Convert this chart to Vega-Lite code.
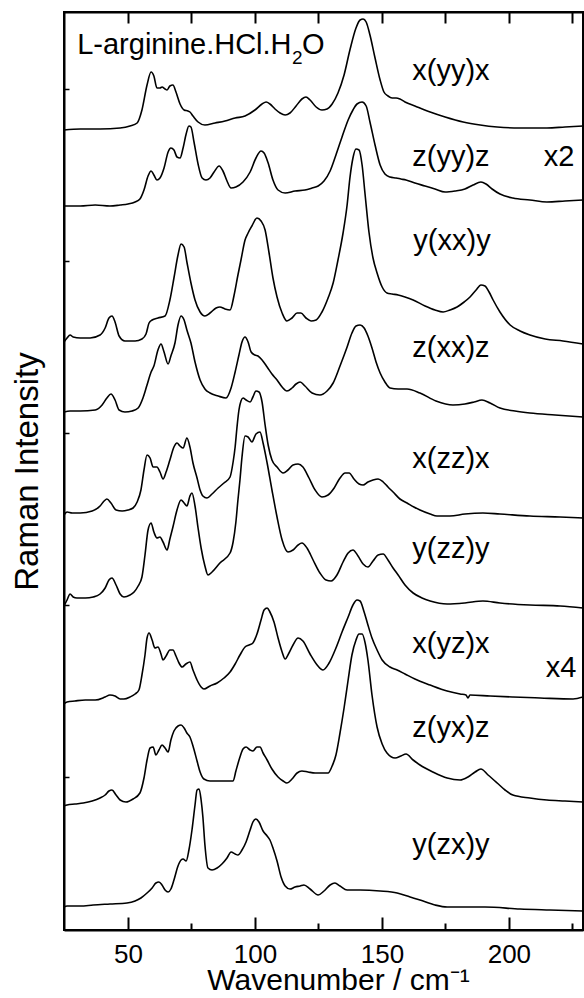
{
"$schema": "https://vega.github.io/schema/vega-lite/v6.json",
"width": 519,
"height": 918,
"autosize": "none",
"padding": {"left": 64, "top": 12, "right": 1, "bottom": 68},
"background": "white",
"config": {"view": {"stroke": "black", "strokeWidth": 2}, "font": "Liberation Sans"},
"datasets": {
"spectra": [
{"s":"xyyx","w":24.8,"i":800},{"s":"xyyx","w":31.2,"i":801},{"s":"xyyx","w":39.0,"i":801},{"s":"xyyx","w":46.9,"i":802},{"s":"xyyx","w":50.8,"i":804},{"s":"xyyx","w":53.6,"i":807},{"s":"xyyx","w":55.5,"i":820},{"s":"xyyx","w":57.5,"i":845},{"s":"xyyx","w":59.1,"i":858},{"s":"xyyx","w":60.2,"i":854},{"s":"xyyx","w":61.4,"i":842},{"s":"xyyx","w":62.6,"i":842},{"s":"xyyx","w":63.4,"i":843},{"s":"xyyx","w":64.6,"i":841},{"s":"xyyx","w":65.4,"i":840},{"s":"xyyx","w":66.5,"i":844},{"s":"xyyx","w":67.7,"i":845},{"s":"xyyx","w":68.9,"i":838},{"s":"xyyx","w":70.5,"i":826},{"s":"xyyx","w":72.1,"i":820},{"s":"xyyx","w":73.6,"i":819},{"s":"xyyx","w":74.4,"i":818},{"s":"xyyx","w":75.6,"i":814},{"s":"xyyx","w":77.6,"i":808},{"s":"xyyx","w":80.3,"i":805},{"s":"xyyx","w":84.3,"i":807},{"s":"xyyx","w":88.2,"i":809},{"s":"xyyx","w":92.2,"i":812},{"s":"xyyx","w":96.1,"i":814},{"s":"xyyx","w":100.0,"i":820},{"s":"xyyx","w":102.8,"i":826},{"s":"xyyx","w":104.4,"i":828},{"s":"xyyx","w":105.9,"i":826},{"s":"xyyx","w":107.9,"i":821},{"s":"xyyx","w":109.9,"i":817},{"s":"xyyx","w":111.9,"i":815},{"s":"xyyx","w":113.8,"i":817},{"s":"xyyx","w":116.2,"i":824},{"s":"xyyx","w":118.5,"i":831},{"s":"xyyx","w":120.1,"i":833},{"s":"xyyx","w":121.7,"i":830},{"s":"xyyx","w":124.1,"i":823},{"s":"xyyx","w":126.4,"i":820},{"s":"xyyx","w":128.4,"i":821},{"s":"xyyx","w":130.4,"i":826},{"s":"xyyx","w":132.7,"i":837},{"s":"xyyx","w":135.1,"i":855},{"s":"xyyx","w":137.4,"i":880},{"s":"xyyx","w":139.8,"i":902},{"s":"xyyx","w":141.4,"i":910},{"s":"xyyx","w":142.6,"i":911},{"s":"xyyx","w":143.8,"i":908},{"s":"xyyx","w":145.3,"i":895},{"s":"xyyx","w":147.3,"i":872},{"s":"xyyx","w":149.3,"i":850},{"s":"xyyx","w":150.8,"i":838},{"s":"xyyx","w":152.4,"i":834},{"s":"xyyx","w":154.0,"i":832},{"s":"xyyx","w":155.6,"i":832},{"s":"xyyx","w":157.1,"i":831},{"s":"xyyx","w":159.1,"i":828},{"s":"xyyx","w":163.0,"i":824},{"s":"xyyx","w":169.0,"i":818},{"s":"xyyx","w":174.9,"i":813},{"s":"xyyx","w":182.0,"i":808},{"s":"xyyx","w":188.7,"i":805},{"s":"xyyx","w":195.4,"i":803},{"s":"xyyx","w":204.4,"i":802},{"s":"xyyx","w":215.0,"i":802},{"s":"xyyx","w":222.1,"i":803},{"s":"xyyx","w":229.2,"i":804},
{"s":"zyyz","w":24.8,"i":724},{"s":"zyyz","w":31.2,"i":724},{"s":"zyyz","w":37.1,"i":725},{"s":"zyyz","w":42.9,"i":724},{"s":"zyyz","w":46.9,"i":725},{"s":"zyyz","w":50.0,"i":726},{"s":"zyyz","w":52.8,"i":728},{"s":"zyyz","w":54.7,"i":731},{"s":"zyyz","w":56.3,"i":740},{"s":"zyyz","w":57.9,"i":754},{"s":"zyyz","w":59.1,"i":759},{"s":"zyyz","w":60.2,"i":755},{"s":"zyyz","w":61.4,"i":750},{"s":"zyyz","w":62.6,"i":752},{"s":"zyyz","w":64.2,"i":762},{"s":"zyyz","w":65.8,"i":778},{"s":"zyyz","w":66.9,"i":782},{"s":"zyyz","w":68.1,"i":780},{"s":"zyyz","w":69.3,"i":773},{"s":"zyyz","w":70.5,"i":772},{"s":"zyyz","w":71.7,"i":782},{"s":"zyyz","w":72.9,"i":796},{"s":"zyyz","w":74.0,"i":804},{"s":"zyyz","w":74.8,"i":803},{"s":"zyyz","w":76.0,"i":788},{"s":"zyyz","w":77.6,"i":766},{"s":"zyyz","w":79.2,"i":752},{"s":"zyyz","w":80.7,"i":750},{"s":"zyyz","w":82.3,"i":752},{"s":"zyyz","w":83.9,"i":758},{"s":"zyyz","w":85.9,"i":764},{"s":"zyyz","w":87.4,"i":759},{"s":"zyyz","w":89.0,"i":749},{"s":"zyyz","w":90.6,"i":742},{"s":"zyyz","w":92.5,"i":743},{"s":"zyyz","w":95.3,"i":748},{"s":"zyyz","w":98.1,"i":758},{"s":"zyyz","w":100.4,"i":772},{"s":"zyyz","w":102.4,"i":779},{"s":"zyyz","w":103.6,"i":777},{"s":"zyyz","w":105.2,"i":767},{"s":"zyyz","w":107.1,"i":750},{"s":"zyyz","w":109.1,"i":740},{"s":"zyyz","w":111.9,"i":737},{"s":"zyyz","w":115.8,"i":739},{"s":"zyyz","w":119.7,"i":740},{"s":"zyyz","w":122.5,"i":742},{"s":"zyyz","w":124.9,"i":744},{"s":"zyyz","w":127.2,"i":749},{"s":"zyyz","w":129.6,"i":759},{"s":"zyyz","w":131.9,"i":775},{"s":"zyyz","w":134.3,"i":793},{"s":"zyyz","w":136.7,"i":810},{"s":"zyyz","w":138.6,"i":820},{"s":"zyyz","w":140.2,"i":826},{"s":"zyyz","w":142.2,"i":828},{"s":"zyyz","w":143.8,"i":824},{"s":"zyyz","w":145.3,"i":808},{"s":"zyyz","w":147.3,"i":785},{"s":"zyyz","w":149.3,"i":765},{"s":"zyyz","w":151.2,"i":756},{"s":"zyyz","w":153.2,"i":753},{"s":"zyyz","w":155.6,"i":752},{"s":"zyyz","w":157.5,"i":751},{"s":"zyyz","w":159.5,"i":750},{"s":"zyyz","w":163.0,"i":747},{"s":"zyyz","w":167.0,"i":744},{"s":"zyyz","w":170.9,"i":741},{"s":"zyyz","w":174.9,"i":738},{"s":"zyyz","w":178.8,"i":739},{"s":"zyyz","w":182.7,"i":741},{"s":"zyyz","w":185.9,"i":745},{"s":"zyyz","w":189.0,"i":748},{"s":"zyyz","w":191.0,"i":746},{"s":"zyyz","w":193.4,"i":741},{"s":"zyyz","w":196.5,"i":736},{"s":"zyyz","w":201.6,"i":732},{"s":"zyyz","w":208.3,"i":730},{"s":"zyyz","w":215.0,"i":728},{"s":"zyyz","w":222.1,"i":729},{"s":"zyyz","w":229.2,"i":730},
{"s":"yxxy","w":24.8,"i":588},{"s":"yxxy","w":26.0,"i":592},{"s":"yxxy","w":27.2,"i":595},{"s":"yxxy","w":28.4,"i":593},{"s":"yxxy","w":31.2,"i":592},{"s":"yxxy","w":35.1,"i":592},{"s":"yxxy","w":39.0,"i":595},{"s":"yxxy","w":41.0,"i":602},{"s":"yxxy","w":42.5,"i":612},{"s":"yxxy","w":43.7,"i":614},{"s":"yxxy","w":44.9,"i":608},{"s":"yxxy","w":46.5,"i":594},{"s":"yxxy","w":48.8,"i":589},{"s":"yxxy","w":52.8,"i":589},{"s":"yxxy","w":55.5,"i":591},{"s":"yxxy","w":57.1,"i":596},{"s":"yxxy","w":58.3,"i":607},{"s":"yxxy","w":59.5,"i":610},{"s":"yxxy","w":61.8,"i":612},{"s":"yxxy","w":64.6,"i":614},{"s":"yxxy","w":66.5,"i":630},{"s":"yxxy","w":68.1,"i":652},{"s":"yxxy","w":69.7,"i":675},{"s":"yxxy","w":70.9,"i":686},{"s":"yxxy","w":72.1,"i":683},{"s":"yxxy","w":73.2,"i":668},{"s":"yxxy","w":74.8,"i":647},{"s":"yxxy","w":76.4,"i":630},{"s":"yxxy","w":78.4,"i":618},{"s":"yxxy","w":80.3,"i":614},{"s":"yxxy","w":82.3,"i":617},{"s":"yxxy","w":84.7,"i":622},{"s":"yxxy","w":86.2,"i":623},{"s":"yxxy","w":88.2,"i":621},{"s":"yxxy","w":90.2,"i":620},{"s":"yxxy","w":91.8,"i":635},{"s":"yxxy","w":93.3,"i":655},{"s":"yxxy","w":94.5,"i":670},{"s":"yxxy","w":96.1,"i":690},{"s":"yxxy","w":97.3,"i":697},{"s":"yxxy","w":98.8,"i":704},{"s":"yxxy","w":100.8,"i":712},{"s":"yxxy","w":102.4,"i":709},{"s":"yxxy","w":104.0,"i":700},{"s":"yxxy","w":105.5,"i":678},{"s":"yxxy","w":107.1,"i":652},{"s":"yxxy","w":108.7,"i":633},{"s":"yxxy","w":110.7,"i":617},{"s":"yxxy","w":112.6,"i":609},{"s":"yxxy","w":114.6,"i":612},{"s":"yxxy","w":116.6,"i":617},{"s":"yxxy","w":118.1,"i":617},{"s":"yxxy","w":120.1,"i":612},{"s":"yxxy","w":122.1,"i":609},{"s":"yxxy","w":124.1,"i":610},{"s":"yxxy","w":126.4,"i":618},{"s":"yxxy","w":128.8,"i":632},{"s":"yxxy","w":130.8,"i":647},{"s":"yxxy","w":132.7,"i":670},{"s":"yxxy","w":134.7,"i":697},{"s":"yxxy","w":136.3,"i":725},{"s":"yxxy","w":137.4,"i":752},{"s":"yxxy","w":138.6,"i":772},{"s":"yxxy","w":139.8,"i":781},{"s":"yxxy","w":141.0,"i":780},{"s":"yxxy","w":142.2,"i":765},{"s":"yxxy","w":143.4,"i":735},{"s":"yxxy","w":144.9,"i":698},{"s":"yxxy","w":146.5,"i":672},{"s":"yxxy","w":148.1,"i":657},{"s":"yxxy","w":150.1,"i":643},{"s":"yxxy","w":152.0,"i":637},{"s":"yxxy","w":154.0,"i":636},{"s":"yxxy","w":156.4,"i":635},{"s":"yxxy","w":159.1,"i":633},{"s":"yxxy","w":162.3,"i":630},{"s":"yxxy","w":167.0,"i":624},{"s":"yxxy","w":170.9,"i":620},{"s":"yxxy","w":174.1,"i":618},{"s":"yxxy","w":176.8,"i":620},{"s":"yxxy","w":179.6,"i":623},{"s":"yxxy","w":182.4,"i":628},{"s":"yxxy","w":184.7,"i":633},{"s":"yxxy","w":187.1,"i":640},{"s":"yxxy","w":189.0,"i":645},{"s":"yxxy","w":190.6,"i":644},{"s":"yxxy","w":192.2,"i":638},{"s":"yxxy","w":193.8,"i":630},{"s":"yxxy","w":196.5,"i":618},{"s":"yxxy","w":200.5,"i":605},{"s":"yxxy","w":204.4,"i":599},{"s":"yxxy","w":208.3,"i":595},{"s":"yxxy","w":214.3,"i":591},{"s":"yxxy","w":221.3,"i":589},{"s":"yxxy","w":229.2,"i":586},
{"s":"zxxz","w":24.8,"i":518},{"s":"zxxz","w":27.2,"i":519},{"s":"zxxz","w":31.2,"i":519},{"s":"zxxz","w":37.1,"i":520},{"s":"zxxz","w":39.8,"i":525},{"s":"zxxz","w":41.7,"i":532},{"s":"zxxz","w":43.3,"i":536},{"s":"zxxz","w":44.9,"i":530},{"s":"zxxz","w":46.5,"i":520},{"s":"zxxz","w":48.8,"i":518},{"s":"zxxz","w":51.6,"i":519},{"s":"zxxz","w":54.0,"i":522},{"s":"zxxz","w":55.9,"i":532},{"s":"zxxz","w":57.5,"i":545},{"s":"zxxz","w":59.1,"i":558},{"s":"zxxz","w":60.2,"i":564},{"s":"zxxz","w":61.8,"i":580},{"s":"zxxz","w":63.0,"i":586},{"s":"zxxz","w":64.2,"i":578},{"s":"zxxz","w":65.8,"i":566},{"s":"zxxz","w":66.9,"i":574},{"s":"zxxz","w":68.5,"i":587},{"s":"zxxz","w":69.7,"i":605},{"s":"zxxz","w":70.9,"i":614},{"s":"zxxz","w":72.1,"i":610},{"s":"zxxz","w":73.2,"i":600},{"s":"zxxz","w":74.8,"i":587},{"s":"zxxz","w":76.4,"i":568},{"s":"zxxz","w":78.4,"i":550},{"s":"zxxz","w":80.3,"i":541},{"s":"zxxz","w":82.3,"i":537},{"s":"zxxz","w":85.5,"i":534},{"s":"zxxz","w":88.6,"i":532},{"s":"zxxz","w":90.6,"i":542},{"s":"zxxz","w":92.2,"i":558},{"s":"zxxz","w":93.7,"i":575},{"s":"zxxz","w":94.9,"i":588},{"s":"zxxz","w":96.1,"i":593},{"s":"zxxz","w":97.3,"i":588},{"s":"zxxz","w":98.5,"i":578},{"s":"zxxz","w":100.0,"i":575},{"s":"zxxz","w":101.2,"i":574},{"s":"zxxz","w":102.8,"i":570},{"s":"zxxz","w":104.8,"i":563},{"s":"zxxz","w":106.7,"i":556},{"s":"zxxz","w":108.7,"i":550},{"s":"zxxz","w":110.7,"i":543},{"s":"zxxz","w":112.6,"i":539},{"s":"zxxz","w":114.6,"i":542},{"s":"zxxz","w":116.2,"i":546},{"s":"zxxz","w":117.8,"i":548},{"s":"zxxz","w":119.7,"i":544},{"s":"zxxz","w":122.5,"i":537},{"s":"zxxz","w":125.6,"i":535},{"s":"zxxz","w":128.4,"i":539},{"s":"zxxz","w":130.8,"i":547},{"s":"zxxz","w":133.5,"i":564},{"s":"zxxz","w":136.3,"i":583},{"s":"zxxz","w":138.2,"i":597},{"s":"zxxz","w":139.8,"i":604},{"s":"zxxz","w":141.4,"i":605},{"s":"zxxz","w":143.0,"i":602},{"s":"zxxz","w":144.5,"i":594},{"s":"zxxz","w":146.1,"i":582},{"s":"zxxz","w":147.7,"i":568},{"s":"zxxz","w":149.3,"i":557},{"s":"zxxz","w":151.2,"i":548},{"s":"zxxz","w":153.2,"i":542},{"s":"zxxz","w":156.4,"i":541},{"s":"zxxz","w":159.9,"i":541},{"s":"zxxz","w":165.0,"i":537},{"s":"zxxz","w":171.3,"i":529},{"s":"zxxz","w":178.0,"i":525},{"s":"zxxz","w":182.7,"i":526},{"s":"zxxz","w":186.3,"i":528},{"s":"zxxz","w":189.4,"i":530},{"s":"zxxz","w":192.6,"i":527},{"s":"zxxz","w":196.5,"i":522},{"s":"zxxz","w":202.4,"i":519},{"s":"zxxz","w":208.3,"i":517},{"s":"zxxz","w":218.2,"i":515},{"s":"zxxz","w":229.2,"i":513},
{"s":"xzzx","w":24.8,"i":415},{"s":"xzzx","w":26.0,"i":418},{"s":"xzzx","w":28.0,"i":417},{"s":"xzzx","w":31.2,"i":417},{"s":"xzzx","w":35.9,"i":419},{"s":"xzzx","w":39.0,"i":424},{"s":"xzzx","w":40.6,"i":429},{"s":"xzzx","w":41.7,"i":431},{"s":"xzzx","w":43.3,"i":427},{"s":"xzzx","w":45.3,"i":420},{"s":"xzzx","w":47.7,"i":419},{"s":"xzzx","w":50.0,"i":420},{"s":"xzzx","w":52.0,"i":422},{"s":"xzzx","w":53.6,"i":428},{"s":"xzzx","w":55.1,"i":440},{"s":"xzzx","w":56.3,"i":460},{"s":"xzzx","w":57.5,"i":475},{"s":"xzzx","w":58.7,"i":472},{"s":"xzzx","w":59.9,"i":463},{"s":"xzzx","w":61.4,"i":463},{"s":"xzzx","w":62.6,"i":458},{"s":"xzzx","w":63.8,"i":451},{"s":"xzzx","w":65.0,"i":458},{"s":"xzzx","w":66.5,"i":470},{"s":"xzzx","w":68.1,"i":483},{"s":"xzzx","w":69.3,"i":487},{"s":"xzzx","w":70.5,"i":484},{"s":"xzzx","w":71.7,"i":482},{"s":"xzzx","w":73.2,"i":492},{"s":"xzzx","w":74.4,"i":483},{"s":"xzzx","w":75.6,"i":467},{"s":"xzzx","w":77.2,"i":452},{"s":"xzzx","w":78.4,"i":440},{"s":"xzzx","w":79.5,"i":434},{"s":"xzzx","w":81.1,"i":432},{"s":"xzzx","w":83.1,"i":436},{"s":"xzzx","w":85.5,"i":442},{"s":"xzzx","w":87.8,"i":447},{"s":"xzzx","w":90.2,"i":453},{"s":"xzzx","w":91.4,"i":468},{"s":"xzzx","w":92.2,"i":483},{"s":"xzzx","w":92.9,"i":502},{"s":"xzzx","w":93.7,"i":520},{"s":"xzzx","w":94.5,"i":529},{"s":"xzzx","w":95.3,"i":532},{"s":"xzzx","w":96.5,"i":530},{"s":"xzzx","w":98.1,"i":528},{"s":"xzzx","w":99.2,"i":533},{"s":"xzzx","w":100.4,"i":539},{"s":"xzzx","w":101.6,"i":538},{"s":"xzzx","w":102.8,"i":528},{"s":"xzzx","w":104.0,"i":505},{"s":"xzzx","w":105.2,"i":485},{"s":"xzzx","w":106.7,"i":470},{"s":"xzzx","w":108.7,"i":463},{"s":"xzzx","w":111.1,"i":457},{"s":"xzzx","w":113.0,"i":460},{"s":"xzzx","w":115.0,"i":465},{"s":"xzzx","w":117.0,"i":466},{"s":"xzzx","w":118.9,"i":463},{"s":"xzzx","w":121.3,"i":452},{"s":"xzzx","w":123.7,"i":440},{"s":"xzzx","w":126.4,"i":433},{"s":"xzzx","w":128.8,"i":435},{"s":"xzzx","w":131.2,"i":442},{"s":"xzzx","w":133.5,"i":452},{"s":"xzzx","w":135.5,"i":457},{"s":"xzzx","w":137.1,"i":457},{"s":"xzzx","w":139.0,"i":451},{"s":"xzzx","w":141.0,"i":446},{"s":"xzzx","w":142.6,"i":445},{"s":"xzzx","w":144.5,"i":448},{"s":"xzzx","w":146.5,"i":450},{"s":"xzzx","w":148.5,"i":451},{"s":"xzzx","w":150.5,"i":448},{"s":"xzzx","w":152.4,"i":443},{"s":"xzzx","w":154.4,"i":438},{"s":"xzzx","w":157.1,"i":431},{"s":"xzzx","w":159.9,"i":427},{"s":"xzzx","w":162.6,"i":423},{"s":"xzzx","w":165.0,"i":420},{"s":"xzzx","w":169.0,"i":416},{"s":"xzzx","w":171.7,"i":414},{"s":"xzzx","w":176.8,"i":414},{"s":"xzzx","w":182.7,"i":416},{"s":"xzzx","w":189.8,"i":417},{"s":"xzzx","w":196.5,"i":416},{"s":"xzzx","w":208.3,"i":414},{"s":"xzzx","w":220.2,"i":413},{"s":"xzzx","w":229.2,"i":412},
{"s":"yzzy","w":24.8,"i":324},{"s":"yzzy","w":26.0,"i":330},{"s":"yzzy","w":27.2,"i":336},{"s":"yzzy","w":28.4,"i":333},{"s":"yzzy","w":29.9,"i":332},{"s":"yzzy","w":33.2,"i":332},{"s":"yzzy","w":36.3,"i":333},{"s":"yzzy","w":39.0,"i":336},{"s":"yzzy","w":41.0,"i":342},{"s":"yzzy","w":42.5,"i":350},{"s":"yzzy","w":43.7,"i":352},{"s":"yzzy","w":45.3,"i":345},{"s":"yzzy","w":46.9,"i":336},{"s":"yzzy","w":48.4,"i":333},{"s":"yzzy","w":50.8,"i":335},{"s":"yzzy","w":52.4,"i":338},{"s":"yzzy","w":54.0,"i":344},{"s":"yzzy","w":55.5,"i":353},{"s":"yzzy","w":56.7,"i":375},{"s":"yzzy","w":57.9,"i":400},{"s":"yzzy","w":59.1,"i":407},{"s":"yzzy","w":60.2,"i":398},{"s":"yzzy","w":61.4,"i":392},{"s":"yzzy","w":62.6,"i":393},{"s":"yzzy","w":63.8,"i":388},{"s":"yzzy","w":65.4,"i":380},{"s":"yzzy","w":66.5,"i":391},{"s":"yzzy","w":67.7,"i":403},{"s":"yzzy","w":69.3,"i":420},{"s":"yzzy","w":70.9,"i":430},{"s":"yzzy","w":72.1,"i":427},{"s":"yzzy","w":73.2,"i":424},{"s":"yzzy","w":74.4,"i":434},{"s":"yzzy","w":75.2,"i":437},{"s":"yzzy","w":76.4,"i":424},{"s":"yzzy","w":77.6,"i":402},{"s":"yzzy","w":78.8,"i":382},{"s":"yzzy","w":80.3,"i":364},{"s":"yzzy","w":81.5,"i":355},{"s":"yzzy","w":83.1,"i":358},{"s":"yzzy","w":86.2,"i":367},{"s":"yzzy","w":90.2,"i":377},{"s":"yzzy","w":91.4,"i":388},{"s":"yzzy","w":92.5,"i":408},{"s":"yzzy","w":93.3,"i":430},{"s":"yzzy","w":94.1,"i":450},{"s":"yzzy","w":94.9,"i":473},{"s":"yzzy","w":96.1,"i":494},{"s":"yzzy","w":97.3,"i":493},{"s":"yzzy","w":98.8,"i":488},{"s":"yzzy","w":100.4,"i":496},{"s":"yzzy","w":102.0,"i":498},{"s":"yzzy","w":103.2,"i":487},{"s":"yzzy","w":104.8,"i":467},{"s":"yzzy","w":106.7,"i":440},{"s":"yzzy","w":108.7,"i":413},{"s":"yzzy","w":110.7,"i":390},{"s":"yzzy","w":113.0,"i":378},{"s":"yzzy","w":115.0,"i":380},{"s":"yzzy","w":117.0,"i":385},{"s":"yzzy","w":118.5,"i":387},{"s":"yzzy","w":120.5,"i":382},{"s":"yzzy","w":122.9,"i":370},{"s":"yzzy","w":125.6,"i":357},{"s":"yzzy","w":128.0,"i":350},{"s":"yzzy","w":130.0,"i":349},{"s":"yzzy","w":132.3,"i":355},{"s":"yzzy","w":134.7,"i":368},{"s":"yzzy","w":136.7,"i":377},{"s":"yzzy","w":138.6,"i":380},{"s":"yzzy","w":140.6,"i":374},{"s":"yzzy","w":142.6,"i":366},{"s":"yzzy","w":144.5,"i":363},{"s":"yzzy","w":146.5,"i":369},{"s":"yzzy","w":148.5,"i":375},{"s":"yzzy","w":150.5,"i":376},{"s":"yzzy","w":152.4,"i":370},{"s":"yzzy","w":154.4,"i":362},{"s":"yzzy","w":156.4,"i":355},{"s":"yzzy","w":159.1,"i":345},{"s":"yzzy","w":162.3,"i":337},{"s":"yzzy","w":165.8,"i":332},{"s":"yzzy","w":169.0,"i":329},{"s":"yzzy","w":175.7,"i":326},{"s":"yzzy","w":182.7,"i":327},{"s":"yzzy","w":189.8,"i":329},{"s":"yzzy","w":196.5,"i":327},{"s":"yzzy","w":208.3,"i":325},{"s":"yzzy","w":220.2,"i":324},{"s":"yzzy","w":229.2,"i":322},
{"s":"xyzx","w":24.8,"i":226},{"s":"xyzx","w":26.0,"i":228},{"s":"xyzx","w":29.1,"i":229},{"s":"xyzx","w":33.2,"i":230},{"s":"xyzx","w":37.1,"i":230},{"s":"xyzx","w":41.0,"i":233},{"s":"xyzx","w":42.9,"i":235},{"s":"xyzx","w":44.9,"i":234},{"s":"xyzx","w":46.9,"i":231},{"s":"xyzx","w":48.4,"i":231},{"s":"xyzx","w":50.8,"i":233},{"s":"xyzx","w":52.8,"i":236},{"s":"xyzx","w":54.3,"i":240},{"s":"xyzx","w":55.5,"i":255},{"s":"xyzx","w":56.7,"i":275},{"s":"xyzx","w":57.5,"i":292},{"s":"xyzx","w":58.3,"i":297},{"s":"xyzx","w":59.5,"i":290},{"s":"xyzx","w":60.6,"i":282},{"s":"xyzx","w":61.8,"i":283},{"s":"xyzx","w":63.0,"i":276},{"s":"xyzx","w":63.8,"i":270},{"s":"xyzx","w":65.0,"i":274},{"s":"xyzx","w":66.5,"i":280},{"s":"xyzx","w":67.7,"i":280},{"s":"xyzx","w":68.9,"i":274},{"s":"xyzx","w":70.1,"i":267},{"s":"xyzx","w":71.3,"i":263},{"s":"xyzx","w":72.8,"i":266},{"s":"xyzx","w":74.4,"i":268},{"s":"xyzx","w":75.6,"i":260},{"s":"xyzx","w":77.2,"i":250},{"s":"xyzx","w":78.8,"i":243},{"s":"xyzx","w":79.9,"i":241},{"s":"xyzx","w":82.3,"i":244},{"s":"xyzx","w":85.1,"i":247},{"s":"xyzx","w":87.8,"i":252},{"s":"xyzx","w":90.2,"i":258},{"s":"xyzx","w":92.2,"i":266},{"s":"xyzx","w":94.1,"i":275},{"s":"xyzx","w":96.1,"i":283},{"s":"xyzx","w":97.7,"i":285},{"s":"xyzx","w":99.2,"i":287},{"s":"xyzx","w":100.8,"i":296},{"s":"xyzx","w":102.4,"i":310},{"s":"xyzx","w":103.6,"i":320},{"s":"xyzx","w":104.8,"i":322},{"s":"xyzx","w":105.9,"i":318},{"s":"xyzx","w":107.5,"i":308},{"s":"xyzx","w":109.1,"i":292},{"s":"xyzx","w":110.7,"i":278},{"s":"xyzx","w":111.9,"i":271},{"s":"xyzx","w":113.4,"i":277},{"s":"xyzx","w":115.0,"i":285},{"s":"xyzx","w":117.0,"i":292},{"s":"xyzx","w":118.9,"i":289},{"s":"xyzx","w":121.7,"i":276},{"s":"xyzx","w":124.5,"i":265},{"s":"xyzx","w":126.8,"i":260},{"s":"xyzx","w":129.2,"i":267},{"s":"xyzx","w":131.9,"i":282},{"s":"xyzx","w":134.3,"i":298},{"s":"xyzx","w":136.7,"i":313},{"s":"xyzx","w":138.6,"i":325},{"s":"xyzx","w":140.2,"i":330},{"s":"xyzx","w":141.4,"i":329},{"s":"xyzx","w":143.0,"i":318},{"s":"xyzx","w":144.5,"i":305},{"s":"xyzx","w":146.1,"i":292},{"s":"xyzx","w":148.1,"i":280},{"s":"xyzx","w":150.1,"i":270},{"s":"xyzx","w":153.2,"i":263},{"s":"xyzx","w":156.0,"i":260},{"s":"xyzx","w":159.1,"i":256},{"s":"xyzx","w":163.0,"i":251},{"s":"xyzx","w":169.0,"i":245},{"s":"xyzx","w":175.7,"i":239},{"s":"xyzx","w":180.8,"i":236},{"s":"xyzx","w":183.1,"i":235},{"s":"xyzx","w":183.9,"i":232},{"s":"xyzx","w":184.7,"i":235},{"s":"xyzx","w":192.6,"i":234},{"s":"xyzx","w":201.6,"i":233},{"s":"xyzx","w":212.3,"i":232},{"s":"xyzx","w":225.3,"i":231},{"s":"xyzx","w":229.2,"i":233},
{"s":"zyxz","w":24.8,"i":124},{"s":"zyxz","w":26.0,"i":125},{"s":"zyxz","w":29.1,"i":126},{"s":"zyxz","w":32.4,"i":127},{"s":"zyxz","w":35.9,"i":129},{"s":"zyxz","w":39.0,"i":132},{"s":"zyxz","w":41.0,"i":135},{"s":"zyxz","w":42.5,"i":139},{"s":"zyxz","w":43.7,"i":140},{"s":"zyxz","w":45.3,"i":135},{"s":"zyxz","w":46.9,"i":130},{"s":"zyxz","w":49.2,"i":128},{"s":"zyxz","w":52.0,"i":131},{"s":"zyxz","w":54.7,"i":137},{"s":"zyxz","w":56.3,"i":152},{"s":"zyxz","w":57.5,"i":170},{"s":"zyxz","w":58.7,"i":182},{"s":"zyxz","w":59.9,"i":183},{"s":"zyxz","w":61.0,"i":175},{"s":"zyxz","w":62.2,"i":180},{"s":"zyxz","w":63.4,"i":185},{"s":"zyxz","w":64.6,"i":182},{"s":"zyxz","w":65.8,"i":178},{"s":"zyxz","w":66.9,"i":190},{"s":"zyxz","w":68.1,"i":199},{"s":"zyxz","w":69.7,"i":204},{"s":"zyxz","w":70.9,"i":205},{"s":"zyxz","w":72.1,"i":202},{"s":"zyxz","w":73.2,"i":197},{"s":"zyxz","w":74.4,"i":193},{"s":"zyxz","w":75.6,"i":184},{"s":"zyxz","w":77.2,"i":169},{"s":"zyxz","w":78.4,"i":158},{"s":"zyxz","w":79.9,"i":151},{"s":"zyxz","w":82.3,"i":149},{"s":"zyxz","w":86.2,"i":149},{"s":"zyxz","w":91.4,"i":149},{"s":"zyxz","w":92.5,"i":159},{"s":"zyxz","w":94.1,"i":173},{"s":"zyxz","w":95.3,"i":181},{"s":"zyxz","w":96.5,"i":183},{"s":"zyxz","w":98.1,"i":180},{"s":"zyxz","w":99.2,"i":179},{"s":"zyxz","w":100.8,"i":183},{"s":"zyxz","w":102.0,"i":183},{"s":"zyxz","w":103.2,"i":177},{"s":"zyxz","w":104.8,"i":170},{"s":"zyxz","w":106.7,"i":161},{"s":"zyxz","w":109.1,"i":153},{"s":"zyxz","w":111.1,"i":149},{"s":"zyxz","w":112.6,"i":147},{"s":"zyxz","w":114.6,"i":151},{"s":"zyxz","w":116.6,"i":157},{"s":"zyxz","w":118.5,"i":159},{"s":"zyxz","w":120.9,"i":158},{"s":"zyxz","w":123.7,"i":157},{"s":"zyxz","w":126.4,"i":157},{"s":"zyxz","w":128.8,"i":157},{"s":"zyxz","w":130.4,"i":164},{"s":"zyxz","w":131.9,"i":175},{"s":"zyxz","w":133.5,"i":197},{"s":"zyxz","w":135.1,"i":222},{"s":"zyxz","w":136.7,"i":250},{"s":"zyxz","w":138.2,"i":275},{"s":"zyxz","w":139.8,"i":290},{"s":"zyxz","w":141.0,"i":296},{"s":"zyxz","w":142.2,"i":296},{"s":"zyxz","w":143.4,"i":287},{"s":"zyxz","w":144.5,"i":270},{"s":"zyxz","w":146.1,"i":235},{"s":"zyxz","w":148.1,"i":203},{"s":"zyxz","w":150.1,"i":186},{"s":"zyxz","w":152.0,"i":177},{"s":"zyxz","w":155.2,"i":172},{"s":"zyxz","w":157.5,"i":174},{"s":"zyxz","w":159.5,"i":176},{"s":"zyxz","w":162.3,"i":170},{"s":"zyxz","w":165.0,"i":165},{"s":"zyxz","w":170.1,"i":158},{"s":"zyxz","w":175.7,"i":152},{"s":"zyxz","w":180.8,"i":150},{"s":"zyxz","w":183.9,"i":153},{"s":"zyxz","w":186.7,"i":158},{"s":"zyxz","w":189.0,"i":161},{"s":"zyxz","w":191.8,"i":155},{"s":"zyxz","w":195.4,"i":147},{"s":"zyxz","w":198.5,"i":140},{"s":"zyxz","w":201.6,"i":135},{"s":"zyxz","w":208.3,"i":132},{"s":"zyxz","w":215.0,"i":130},{"s":"zyxz","w":222.1,"i":129},{"s":"zyxz","w":229.2,"i":128},
{"s":"yzxy","w":24.8,"i":23},{"s":"yzxy","w":26.0,"i":24},{"s":"yzxy","w":31.2,"i":24},{"s":"yzxy","w":36.3,"i":25},{"s":"yzxy","w":42.9,"i":26},{"s":"yzxy","w":49.6,"i":27},{"s":"yzxy","w":52.8,"i":29},{"s":"yzxy","w":55.1,"i":32},{"s":"yzxy","w":57.5,"i":37},{"s":"yzxy","w":59.5,"i":42},{"s":"yzxy","w":61.0,"i":47},{"s":"yzxy","w":62.2,"i":48},{"s":"yzxy","w":63.4,"i":45},{"s":"yzxy","w":64.6,"i":40},{"s":"yzxy","w":65.8,"i":38},{"s":"yzxy","w":66.9,"i":41},{"s":"yzxy","w":68.1,"i":50},{"s":"yzxy","w":69.7,"i":64},{"s":"yzxy","w":70.9,"i":70},{"s":"yzxy","w":71.7,"i":71},{"s":"yzxy","w":72.9,"i":69},{"s":"yzxy","w":74.0,"i":80},{"s":"yzxy","w":75.2,"i":100},{"s":"yzxy","w":76.4,"i":125},{"s":"yzxy","w":77.2,"i":140},{"s":"yzxy","w":78.0,"i":141},{"s":"yzxy","w":78.8,"i":130},{"s":"yzxy","w":79.5,"i":113},{"s":"yzxy","w":80.3,"i":85},{"s":"yzxy","w":81.5,"i":62},{"s":"yzxy","w":83.1,"i":60},{"s":"yzxy","w":85.1,"i":62},{"s":"yzxy","w":87.0,"i":66},{"s":"yzxy","w":89.0,"i":72},{"s":"yzxy","w":90.6,"i":78},{"s":"yzxy","w":92.2,"i":76},{"s":"yzxy","w":93.3,"i":75},{"s":"yzxy","w":94.9,"i":80},{"s":"yzxy","w":96.5,"i":88},{"s":"yzxy","w":98.1,"i":100},{"s":"yzxy","w":99.2,"i":108},{"s":"yzxy","w":100.4,"i":111},{"s":"yzxy","w":101.6,"i":108},{"s":"yzxy","w":103.2,"i":99},{"s":"yzxy","w":104.8,"i":94},{"s":"yzxy","w":105.9,"i":90},{"s":"yzxy","w":107.1,"i":82},{"s":"yzxy","w":108.7,"i":69},{"s":"yzxy","w":110.3,"i":53},{"s":"yzxy","w":111.9,"i":44},{"s":"yzxy","w":113.8,"i":41},{"s":"yzxy","w":115.8,"i":43},{"s":"yzxy","w":117.8,"i":44},{"s":"yzxy","w":119.3,"i":45},{"s":"yzxy","w":121.7,"i":41},{"s":"yzxy","w":124.9,"i":35},{"s":"yzxy","w":127.2,"i":39},{"s":"yzxy","w":129.6,"i":45},{"s":"yzxy","w":131.5,"i":47},{"s":"yzxy","w":133.5,"i":44},{"s":"yzxy","w":136.3,"i":40},{"s":"yzxy","w":141.4,"i":40},{"s":"yzxy","w":149.3,"i":39},{"s":"yzxy","w":156.0,"i":37},{"s":"yzxy","w":161.1,"i":33},{"s":"yzxy","w":165.0,"i":30},{"s":"yzxy","w":170.9,"i":25},{"s":"yzxy","w":175.7,"i":23},{"s":"yzxy","w":182.7,"i":23},{"s":"yzxy","w":190.6,"i":23},{"s":"yzxy","w":204.4,"i":21},{"s":"yzxy","w":216.2,"i":20},{"s":"yzxy","w":229.2,"i":19}
],
"labels": [
{"t":"x(yy)x","w":177.2,"i":850},
{"t":"z(yy)z","w":177.2,"i":764},
{"t":"x2","w":219.8,"i":764},
{"t":"y(xx)y","w":177.6,"i":680},
{"t":"z(xx)z","w":177.2,"i":573},
{"t":"x(zz)x","w":177.2,"i":462},
{"t":"y(zz)y","w":177.2,"i":372},
{"t":"x(yz)x","w":177.2,"i":277},
{"t":"x4","w":220.6,"i":253},
{"t":"z(yx)z","w":177.2,"i":193},
{"t":"y(zx)y","w":177.2,"i":76}
],
"title": [
{"t":"L-arginine.HCl.H","w":30.0,"i":876},
{"t":"O","w":118.5,"i":876}
],
"sub": [
{"t":"2","w":114.6,"i":866}
]
},
"layer": [
{
"data": {"name": "spectra"},
"mark": {"type": "line", "stroke": "black", "strokeWidth": 1.6, "interpolate": "monotone", "clip": true},
"encoding": {
"x": {"field": "w", "type": "quantitative", "scale": {"domain": [24.8, 229.2], "nice": false, "zero": false},
"axis": {"orient": "bottom", "values": [50, 75, 100, 125, 150, 175, 200, 225], "grid": false,
"tickSize": {"condition": {"test": "datum.value % 50 === 0", "value": -13}, "value": -7},
"tickColor": "black", "tickWidth": 2, "domainColor": "black", "domainWidth": 2,
"labelExpr": "datum.value % 50 === 0 ? datum.label : ''",
"labelFont": "Liberation Sans", "labelFontSize": 26, "labelColor": "black", "labelPadding": 24, "labelFlush": false, "labelOverlap": false,
"title": "Wavenumber / cm⁻¹", "titleFont": "Liberation Sans", "titleFontSize": 30, "titleFontWeight": "normal", "titleColor": "black", "titlePadding": -8, "titleX": 274}},
"y": {"field": "i", "type": "quantitative", "scale": {"domain": [0, 918], "nice": false, "zero": false},
"axis": {"orient": "left", "values": [153, 325, 497, 669, 841], "grid": false, "labels": false, "tickSize": -5, "tickColor": "black", "tickWidth": 1.5, "domainColor": "black", "domainWidth": 2,
"title": "Raman Intensity", "titleFont": "Liberation Sans", "titleFontSize": 33, "titleFontWeight": "normal", "titleColor": "black", "titlePadding": 19}},
"detail": {"field": "s", "type": "nominal"}
}
},
{
"data": {"name": "labels"},
"mark": {"type": "text", "font": "Liberation Sans", "fontSize": 29, "align": "center", "baseline": "alphabetic", "fill": "black"},
"encoding": {
"x": {"field": "w", "type": "quantitative", "scale": {"domain": [24.8, 229.2], "nice": false, "zero": false},
"axis": {"orient": "top", "values": [50, 75, 100, 125, 150, 175, 200, 225], "grid": false, "labels": false, "tickSize": -11, "tickColor": "black", "tickWidth": 2, "domainColor": "black", "domainWidth": 2, "title": null}},
"y": {"field": "i", "type": "quantitative", "scale": {"domain": [0, 918], "nice": false, "zero": false}, "axis": null},
"text": {"field": "t", "type": "nominal"}
}
},
{
"data": {"name": "title"},
"mark": {"type": "text", "font": "Liberation Sans", "fontSize": 29, "align": "left", "baseline": "alphabetic", "fill": "black"},
"encoding": {
"x": {"field": "w", "type": "quantitative", "scale": {"domain": [24.8, 229.2], "nice": false, "zero": false}, "axis": null},
"y": {"field": "i", "type": "quantitative", "scale": {"domain": [0, 918], "nice": false, "zero": false}, "axis": null},
"text": {"field": "t", "type": "nominal"}
}
},
{
"data": {"name": "sub"},
"mark": {"type": "text", "font": "Liberation Sans", "fontSize": 19, "align": "left", "baseline": "alphabetic", "fill": "black"},
"encoding": {
"x": {"field": "w", "type": "quantitative", "scale": {"domain": [24.8, 229.2], "nice": false, "zero": false}, "axis": null},
"y": {"field": "i", "type": "quantitative", "scale": {"domain": [0, 918], "nice": false, "zero": false}, "axis": null},
"text": {"field": "t", "type": "nominal"}
}
}
],
"resolve": {"axis": {"x": "independent", "y": "independent"}}
}
